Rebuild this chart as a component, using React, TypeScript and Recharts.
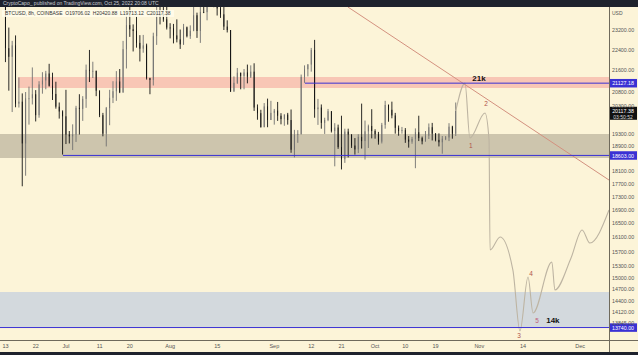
import React from "react";
import {
  ComposedChart,
  Bar,
  Line,
  XAxis,
  YAxis,
  ReferenceArea,
  ReferenceLine,
  ReferenceDot,
} from "recharts";

// day 0 = Jul 1 2022, one candle per day starting Jun 12
const FIRST_DAY = -19;
const FIRST_OPEN = 28400;

const closes = [
  26580, 22470, 22130, 22580, 20380, 20450, 19000, 20570, 20570, 20720,
  19970, 21080, 21230, 21490, 21030, 20730, 20270, 20100, 19930, 19300,
  19240, 19300, 20230, 20190, 20550, 21630, 21590, 21590, 20850, 19970,
  19330, 20220, 20590, 20830, 21190, 20790, 22430, 23400, 23230, 23160,
  22680, 22450, 22580, 21310, 21250, 22950, 23840, 23800, 23640, 23300,
  23270, 22980, 22820, 22620, 23310, 22950, 23170, 23810, 23160, 23950,
  23940, 24400, 24440, 24300, 24100, 23850, 23340, 23200, 20830, 21140,
  21520, 21400, 21530, 21370, 21560, 20240, 20040, 19550, 20280, 19800,
  20050, 20130, 19950, 19830, 19990, 19800, 18790, 19290, 19320, 21360,
  21650, 21830, 22400, 20180, 20240, 19700, 19800, 20110, 19420, 19540,
  18880, 18480, 19400, 19300, 18930, 18800, 19220, 19080, 19410, 19590,
  19420, 19310, 19060, 19630, 20330, 20160, 19960, 19530, 19420, 19450,
  19130, 19060, 19150, 19380, 19180, 19070, 19260, 19550, 19330, 19120,
  19040, 19160, 19200, 19570, 19330, 20117,
];

const highs = [
  28550, 26880, 23300, 22760, 22980, 21340, 20750, 20800, 21000, 21720,
  20870, 21200, 21540, 21590, 21860, 21520, 21180, 20420, 20140, 20880,
  19420, 19650, 20300, 20720, 20650, 21830, 22400, 21940, 21600, 20860,
  20050, 20260, 20880, 21200, 21580, 21660, 22760, 23780, 24280, 23430,
  23750, 22990, 23000, 22650, 21330, 23090, 24200, 24440, 24650, 24180,
  23480, 23450, 23640, 23220, 23450, 23340, 23390, 24240, 23920, 24210,
  24900, 24450, 24880, 25050, 25200, 24240, 24440, 23600, 23200, 21380,
  21700, 21520, 21660, 21830, 21800, 21880, 20350, 20160, 20400, 20560,
  20480, 20190, 20440, 20040, 20000, 20050, 20170, 19460, 19450, 21450,
  21800, 21850, 22480, 22800, 20550, 20350, 19880, 20190, 20110, 19690,
  19640, 19950, 19500, 19500, 19310, 19180, 19310, 20380, 19780, 19640,
  20180, 19480, 19390, 19700, 20480, 20350, 20450, 20050, 19610, 19560,
  19520, 19250, 19220, 19510, 19950, 19230, 19420, 19680, 19700, 19350,
  19340, 19250, 19250, 19690, 19600, 20420,
];

const lows = [
  26560, 21925, 20850, 20080, 20250, 20240, 17620, 17950, 19640, 20350,
  19750, 19880, 20740, 20900, 21000, 20510, 20200, 19850, 18630, 18980,
  19000, 18780, 19050, 19300, 19770, 20230, 21170, 21320, 20650, 19900,
  19240, 18900, 19620, 20400, 20480, 20760, 20770, 21680, 22920, 22340,
  22490, 21950, 22290, 21260, 20720, 21040, 22600, 23430, 23540, 23220,
  22860, 22660, 22700, 22440, 22600, 22900, 22840, 23150, 22880, 22680,
  23900, 23600, 24300, 24150, 23800, 23700, 23200, 23100, 20800, 20800,
  21100, 20900, 20900, 21120, 21320, 20120, 19810, 19540, 19550, 19550,
  19800, 19640, 19770, 19650, 19600, 19640, 18690, 18540, 19020, 19300,
  21140, 21380, 21560, 19880, 19630, 19500, 19320, 19760, 19370, 18250,
  18820, 18150, 18360, 18540, 18850, 18630, 18680, 18830, 18470, 18850,
  19170, 19160, 18960, 19000, 19500, 19740, 19860, 19330, 19260, 19330,
  19020, 18860, 18990, 18190, 19080, 18970, 19060, 19150, 19100, 19070,
  18900, 18660, 19110, 19080, 19160, 19250,
];

// projected path drawn after the last candle
const pathDays = [116, 118.75, 120.2, 124.7, 125.9, 126.2, 129.2, 133, 135.1, 137.5, 139, 144.6, 145.5, 150.3, 153.6, 155.9, 161.6];
const pathPrices = [20117, 21127, 19184, 20045, 19117, 15751, 16115, 15203, 13656, 15017, 14096, 15421, 14679, 15530, 16315, 15945, 16898];

// wave labels
const noteDays = [122.9, 125, 120.5, 134.8, 138.4, 140.2, 144.9];
const notePrices = [21320, 20402, 18915, 13537, 15124, 13922, 13922];
const noteTexts = ["21k", "2", "1", "3", "4", "5", "14k"];

const priceTicks = [23200, 22400, 21600, 20800, 20300, 19300, 18900, 18100, 17700, 17300, 16900, 16500, 16100, 15700, 15300, 15000, 14700, 14400, 14120, 13845];
const dayTicks = [-18, -9, 0, 10, 19, 31, 45, 62, 73, 82, 92, 101, 110, 123, 136, 153];
const dayLabels = ["13", "22", "Jul", "11", "20", "Aug", "15", "Sep", "12", "21", "Oct", "10", "19", "Nov", "14", "Dec"];

const candles = closes.map((c, i) => ({
  t: FIRST_DAY + i,
  open: i === 0 ? FIRST_OPEN : closes[i - 1],
  close: c,
  high: highs[i],
  low: lows[i],
  range: [lows[i], highs[i]],
}));

const path = pathDays.map((t, i) => ({ t, p: pathPrices[i] }));

const FONT = "'Liberation Sans', Arial, sans-serif";
const BG = "#fcf4d8";
const UP = "#707070";
const DOWN = "#121212";
const LEVEL = "#3a31d4";

function Candle(props: any) {
  const { x, y, width, height, payload } = props;
  if (x == null || y == null || !payload) return null;
  const top = Math.min(y, y + height);
  const h = Math.abs(height);
  const { open, close, high, low } = payload;
  const span = Math.log(high) - Math.log(low) || 1;
  const at = (p: number) => top + (h * (Math.log(high) - Math.log(p))) / span;
  const color = close >= open ? UP : DOWN;
  const cx = x + width / 2;
  const bTop = at(Math.max(open, close));
  const bBot = at(Math.min(open, close));
  return (
    <g>
      <line x1={cx} x2={cx} y1={top} y2={top + h} stroke={color} strokeWidth={0.9} />
      <rect x={x} y={bTop} width={width} height={Math.max(bBot - bTop, 0.8)} fill={color} />
    </g>
  );
}

const axisTag = (text: string, bg: string, sub?: string) => (props: any) => {
  const vb = props.viewBox || {};
  const x = (vb.x || 0) + (vb.width || 0);
  const y = vb.y || 0;
  const h = sub ? 13 : 8.5;
  return (
    <g>
      <rect x={x} y={y - 4.2} width={28} height={h} fill={bg} />
      <text x={x + 14} y={y + 0.2} fill="#fff" fontSize={5.3} fontFamily={FONT} textAnchor="middle" dominantBaseline="central">
        {text}
      </text>
      {sub && (
        <text x={x + 14} y={y + 6} fill="#ddd" fontSize={5} fontFamily={FONT} textAnchor="middle" dominantBaseline="central">
          {sub}
        </text>
      )}
    </g>
  );
};

function Note(props: any) {
  const { cx, cy, text } = props;
  const big = text.endsWith("k");
  return (
    <text
      x={cx}
      y={cy}
      fill={big ? "#111" : text === "5" ? "#c05d79" : "#b0524a"}
      fontSize={big ? 8 : 6.5}
      fontWeight={big ? 700 : 400}
      fontFamily={FONT}
      textAnchor="middle"
      dominantBaseline="central"
    >
      {text}
    </text>
  );
}

export default function App() {
  return (
    <div style={{ position: "absolute", left: 0, top: 0, width: 638, height: 355, background: BG, overflow: "hidden", fontFamily: FONT }}>
      <ComposedChart width={638} height={355} data={candles} margin={{ top: 7, right: 0, bottom: 3, left: 0 }}>
        <XAxis
          dataKey="t"
          type="number"
          domain={[-19.64, 161.6]}
          allowDataOverflow
          ticks={dayTicks}
          tickFormatter={(v: number) => dayLabels[dayTicks.indexOf(v)] ?? ""}
          tick={{ fontSize: 5.5, fill: "#555", fontFamily: FONT }}
          tickLine={false}
          tickSize={0}
          tickMargin={4}
          axisLine={false}
          height={12}
        />
        <YAxis
          orientation="right"
          scale="log"
          domain={[13442, 24159]}
          allowDataOverflow
          ticks={priceTicks}
          tickFormatter={(v: number) => v.toFixed(2)}
          tick={{ fontSize: 5.3, fill: "#555", fontFamily: FONT }}
          tickLine={false}
          tickSize={0}
          tickMargin={3}
          axisLine={false}
          width={29}
        />
        <ReferenceArea y1={13740} y2={14627} fill="#d3d9dd" fillOpacity={1} stroke="none" />
        <ReferenceArea y1={18519} y2={19318} fill="#cdc5ad" fillOpacity={1} stroke="none" />
        <ReferenceArea x1={-14.3} y1={20948} y2={21358} fill="#f8c6b5" fillOpacity={1} stroke="none" />
        <Bar dataKey="range" barSize={2.2} shape={Candle} isAnimationActive={false} />
        <Line
          data={path}
          dataKey="p"
          type="monotone"
          stroke="#bdb4a2"
          strokeWidth={1.1}
          dot={false}
          isAnimationActive={false}
        />
        <ReferenceLine
          segment={[{ x: 83.9, y: 24159 }, { x: 161.6, y: 17815 }]}
          stroke="#d3917f"
          strokeWidth={1}
        />
        <ReferenceLine
          segment={[{ x: 71.1, y: 21127.18 }, { x: 161.6, y: 21127.18 }]}
          stroke={LEVEL}
          strokeWidth={1}
          label={axisTag("21127.18", LEVEL)}
        />
        <ReferenceLine
          segment={[{ x: -0.9, y: 18603 }, { x: 161.6, y: 18603 }]}
          stroke={LEVEL}
          strokeWidth={1}
          label={axisTag("18603.00", LEVEL)}
        />
        <ReferenceLine y={13740} stroke={LEVEL} strokeWidth={1} label={axisTag("13740.00", LEVEL)} />
        <ReferenceLine y={20117.38} strokeOpacity={0} label={axisTag("20117.38", "#111", "03:50:52")} />
        {noteTexts.map((s, i) => (
          <ReferenceDot key={s} x={noteDays[i]} y={notePrices[i]} r={0} shape={(p: any) => <Note {...p} text={s} />} />
        ))}
      </ComposedChart>

      {/* axis frame */}
      <div style={{ position: "absolute", left: 0, top: 340, width: 638, height: 1, background: "#6f6a5c" }} />
      <div style={{ position: "absolute", left: 609, top: 7, width: 1, height: 345, background: "#6f6a5c" }} />
      <div style={{ position: "absolute", left: 612, top: 10, fontSize: 5, color: "#555" }}>USD</div>

      {/* top bar and legend */}
      <div style={{ position: "absolute", left: 0, top: 0, width: 638, height: 7, background: "#1e222d", color: "#c9ccd3", fontSize: 5, lineHeight: "7px", paddingLeft: 3, boxSizing: "border-box", whiteSpace: "nowrap" }}>
        CryptoCapo_ published on TradingView.com, Oct 25, 2022 20:08 UTC
      </div>
      <div style={{ position: "absolute", left: 2, top: 10, height: 7, padding: "0 3px", background: "rgba(255,251,235,0.85)", color: "#333", fontSize: 5, lineHeight: "7px", whiteSpace: "nowrap" }}>
        BTCUSD, 8h, COINBASE&nbsp;&nbsp;O19706.02&nbsp;&nbsp;H20420.88&nbsp;&nbsp;L19713.12&nbsp;&nbsp;C20117.38
      </div>
      <div style={{ position: "absolute", left: 0, top: 352, width: 638, height: 3, background: "#1e222d" }} />
    </div>
  );
}
